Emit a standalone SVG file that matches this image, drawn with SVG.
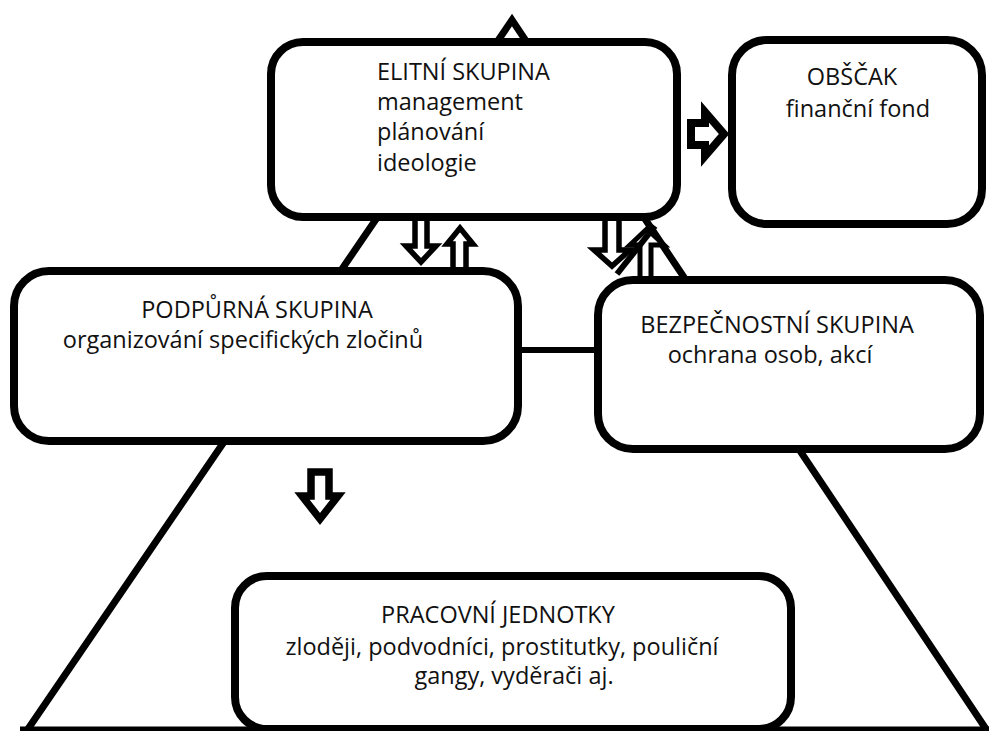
<svg xmlns="http://www.w3.org/2000/svg" width="989" height="731" viewBox="0 0 989 731">
<style>
.box{fill:#fff;stroke:#000;stroke-width:8}
.pyr{fill:none;stroke:#000;stroke-width:7;stroke-linejoin:miter}
.base{fill:none;stroke:#000;stroke-width:5}
.ln{fill:none;stroke:#000;stroke-width:6}
.arr{fill:#fff;stroke:#000;stroke-linejoin:miter;stroke-miterlimit:10}
text{font-family:"Open Sans","Liberation Sans",sans-serif;font-size:23.5px;fill:#111}
.c{text-anchor:middle}
</style>
<rect width="989" height="731" fill="#fff"/>
<g id="pyramid">
<path class="pyr" d="M28,729 L512,20 L986,729"/>
<path class="base" d="M20,729 H989"/>
</g>
<g id="connectors">
<line class="ln" x1="518" y1="350" x2="598" y2="350"/>
<polygon class="arr" stroke-width="5.5" points="415,217 427,217 427,246 436,246 421,262 406,246 415,246"/>
<polygon class="arr" stroke-width="5.5" points="453,271 453,244 447,244 460,228 473,244 466,244 466,271"/>
<polygon class="arr" stroke-width="5.5" points="605,217 619,217 619,250 630,250 612,266 594,250 605,250"/>
<polygon class="arr" stroke-width="5" points="640,280 640,245 630,245 647,229 664,245 651,245 651,280"/>
<line class="ln" stroke-width="5" x1="617" y1="274" x2="655" y2="226"/>
<polygon class="arr" stroke-width="8" points="691,123 705,123 705,112 724,134 705,156 705,145 691,145"/>
<polygon class="arr" stroke-width="7.5" points="311,472 329,472 329,496 338,496 320,519 302,496 311,496"/>
</g>
<g id="elite">
<rect class="box" x="271" y="42" width="406" height="175" rx="32"/>
<text x="377" y="80">ELITNÍ SKUPINA</text>
<text x="377" y="110">management</text>
<text x="377" y="140">plánování</text>
<text x="377" y="171">ideologie</text>
</g>
<g id="obscak">
<rect class="box" x="732" y="40" width="250" height="184" rx="35"/>
<text class="c" x="852" y="85">OBŠČAK</text>
<text class="c" x="858" y="117">finanční fond</text>
</g>
<g id="podpurna">
<rect class="box" x="14" y="271" width="504" height="170" rx="35"/>
<text class="c" x="257" y="318">PODPŮRNÁ SKUPINA</text>
<text class="c" x="243" y="348">organizování specifických zločinů</text>
</g>
<g id="bezpecnostni">
<rect class="box" x="598" y="280" width="382" height="169" rx="35"/>
<text class="c" x="777" y="333">BEZPEČNOSTNÍ SKUPINA</text>
<text class="c" x="770" y="363">ochrana osob, akcí</text>
</g>
<g id="pracovni">
<rect class="box" x="235" y="576" width="556" height="153" rx="32"/>
<text class="c" x="498" y="623">PRACOVNÍ JEDNOTKY</text>
<text class="c" x="502" y="655">zloději, podvodníci, prostitutky, pouliční</text>
<text class="c" x="514" y="684">gangy, vyděrači aj.</text>
</g>
</svg>
